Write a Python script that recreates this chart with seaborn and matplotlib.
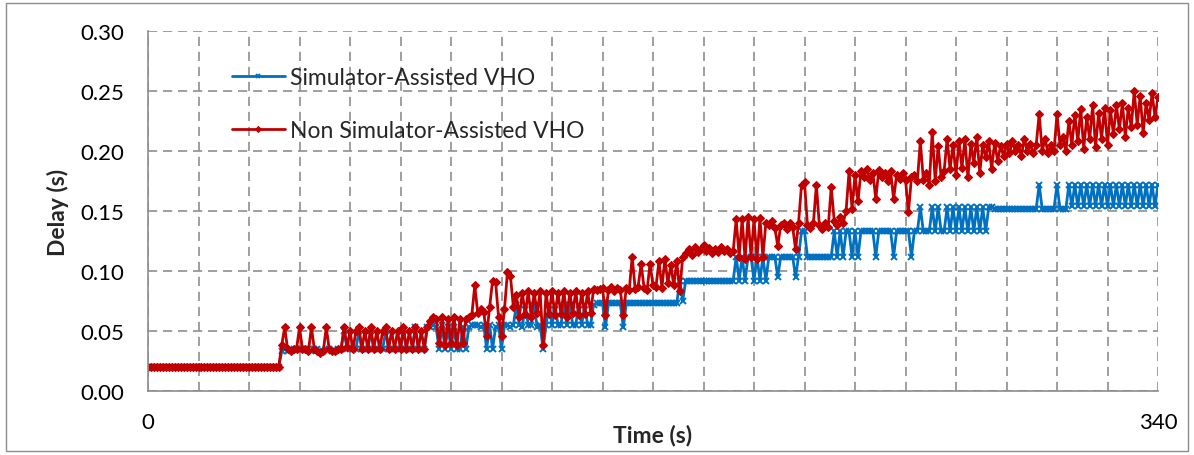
import numpy as np
import pandas as pd
import matplotlib
matplotlib.use("Agg")
import matplotlib.pyplot as plt
import seaborn as sns

# time axis: one sample per second, 0..340 s
time_s = list(range(0, 341))

# Simulator-Assisted VHO delay (ms), rows of 17 samples
sim_ms = (
    [20] * 17 +
    [20] * 17 +
    [20, 20, 20, 20, 20, 20, 20, 20, 20, 20, 20, 33, 35, 33, 35, 35, 35] +
    [35, 35, 35, 35, 33, 35, 35, 33, 33, 35, 35, 33, 33, 35, 35, 50, 35] +
    [35, 35, 35, 50, 35, 35, 35, 50, 35, 35, 35, 35, 50, 35, 35, 35, 35] +
    [35, 50, 35, 35, 35, 53, 35, 35, 35, 53, 53, 55, 53, 35, 55, 35, 53] +
    [35, 53, 35, 35, 53, 35, 53, 55, 55, 55, 53, 55, 35, 55, 35, 53, 55] +
    [35, 55, 55, 53, 55, 72, 55, 53, 72, 55, 55, 72, 53, 55, 35, 55, 72] +
    [55, 72, 55, 55, 72, 55, 72, 55, 55, 72, 55, 72, 55, 55, 72, 73, 73] +
    [73, 53, 73, 73, 73, 73, 73, 53, 73, 73, 73, 73, 73, 73, 73, 73, 73] +
    [73, 73, 73, 73, 73, 73, 73, 73, 73, 92, 75, 92, 92, 92, 92, 92, 92] +
    [92, 92, 92, 92, 92, 92, 92, 92, 92, 92, 92, 112, 92, 112, 92, 112, 112] +
    [92, 112, 92, 112, 92, 112, 112, 112, 95, 112, 112, 112, 112, 112, 95, 112, 133] +
    [133, 112, 112, 112, 112, 112, 112, 112, 112, 112, 133, 112, 133, 112, 133, 133, 112] +
    [133, 112, 133, 133, 133, 133, 133, 112, 133, 133, 133, 133, 133, 112, 133, 133, 133] +
    [133, 133, 112, 133, 133, 153, 133, 133, 133, 153, 133, 153, 133, 133, 153, 133, 153] +
    [133, 153, 133, 153, 133, 153, 133, 153, 133, 153, 133, 153, 153, 152, 152, 152, 152] +
    [152, 152, 152, 152, 152, 152, 152, 152, 152, 152, 152, 172, 152, 152, 152, 152, 152] +
    [172, 152, 152, 152, 172, 154, 172, 154, 172, 154, 172, 154, 172, 154, 172, 154, 172] +
    [154, 172, 154, 172, 154, 172, 154, 172, 154, 172, 154, 172, 154, 172, 154, 172, 154] +
    [172]
)

# Non Simulator-Assisted VHO delay (ms), rows of 17 samples
non_ms = (
    [20] * 17 +
    [20] * 17 +
    [20, 20, 20, 20, 20, 20, 20, 20, 20, 20, 20, 38, 53, 35, 33, 35, 35] +
    [53, 35, 35, 33, 53, 35, 33, 32, 33, 53, 35, 33, 33, 35, 35, 53, 37] +
    [50, 35, 50, 53, 35, 50, 35, 53, 35, 50, 35, 50, 53, 35, 50, 35, 50] +
    [35, 53, 35, 50, 35, 53, 35, 50, 35, 53, 58, 62, 60, 40, 62, 38, 60] +
    [40, 62, 38, 60, 40, 60, 62, 63, 88, 65, 68, 66, 46, 70, 92, 91, 62] +
    [46, 68, 99, 96, 70, 80, 62, 82, 64, 83, 62, 82, 65, 83, 38, 82, 64] +
    [83, 63, 82, 64, 83, 62, 82, 65, 83, 63, 82, 64, 83, 65, 85, 84, 85] +
    [86, 63, 84, 87, 83, 86, 84, 63, 86, 84, 112, 85, 87, 106, 86, 84, 106] +
    [88, 87, 108, 86, 110, 90, 105, 88, 108, 83, 112, 115, 118, 113, 120, 116, 118] +
    [122, 117, 119, 115, 118, 116, 120, 117, 118, 115, 117, 143, 112, 143, 110, 145, 112] +
    [143, 110, 144, 112, 140, 138, 142, 136, 121, 138, 140, 135, 140, 137, 118, 140, 172] +
    [174, 138, 136, 140, 172, 138, 135, 140, 137, 170, 142, 138, 145, 140, 150, 183, 152] +
    [180, 158, 183, 178, 185, 176, 182, 160, 184, 178, 182, 175, 183, 160, 180, 177, 182] +
    [176, 149, 178, 180, 175, 208, 176, 182, 172, 216, 175, 204, 178, 183, 210, 185, 205] +
    [180, 208, 186, 210, 178, 206, 190, 212, 182, 205, 195, 208, 185, 207, 192, 204, 196] +
    [206, 198, 208, 200, 205, 196, 210, 200, 206, 198, 205, 231, 200, 210, 198, 205, 200] +
    [231, 205, 212, 200, 225, 205, 230, 208, 235, 202, 228, 210, 238, 203, 232, 210, 236] +
    [205, 234, 214, 238, 218, 240, 212, 236, 220, 250, 222, 246, 215, 240, 226, 248, 228] +
    [245]
)

series_names = ["Simulator-Assisted VHO", "Non Simulator-Assisted VHO"]
series_colors = ["#0070C0", "#C00000"]
y_ticks = [0.00, 0.05, 0.10, 0.15, 0.20, 0.25, 0.30]

sim_df = pd.DataFrame({"Time (s)": time_s, "Delay (s)": [v / 1000 for v in sim_ms]})
non_df = pd.DataFrame({"Time (s)": time_s, "Delay (s)": [v / 1000 for v in non_ms]})

sns.set_style("white")
plt.rcParams["font.family"] = ["Lato", "DejaVu Sans"]

fig = plt.figure(figsize=(11.94, 4.56), dpi=100)
ax = fig.add_axes([148 / 1194, 1 - 392 / 456, (1158 - 148) / 1194, (392 - 32) / 456])

sns.lineplot(data=sim_df, x="Time (s)", y="Delay (s)", color=series_colors[0],
             marker="x", markersize=4.5, markeredgewidth=1.4,
             markeredgecolor=series_colors[0], linewidth=2.0,
             label=series_names[0], ax=ax)
sns.lineplot(data=non_df, x="Time (s)", y="Delay (s)", color=series_colors[1],
             marker="D", markersize=4.0, markeredgewidth=0.8,
             markeredgecolor=series_colors[1], markerfacecolor=series_colors[1],
             linewidth=2.0, label=series_names[1], ax=ax)

ax.set_xlim(0, 340)
ax.set_ylim(0, 0.30)
ax.set_xticks(np.arange(0, 341, 17))
ax.set_xticklabels(["0"] + [""] * 19 + ["340"])
ax.set_yticks(y_ticks)
ax.set_yticklabels([f"{t:.2f}" for t in y_ticks])
ax.tick_params(axis="both", labelsize=16, labelcolor="#000000", length=6, width=1,
               direction="out", color="#8c8c8c")
ax.tick_params(axis="y", pad=11)
ax.tick_params(axis="x", pad=9)
ax.grid(True, color="#8f8f8f", linestyle=(0, (5.5, 3.5)), linewidth=1.2)
for s in ["top", "right"]:
    ax.spines[s].set_visible(False)
for s in ["left", "bottom"]:
    ax.spines[s].set_color("#8c8c8c")
    ax.spines[s].set_linewidth(1.2)
ax.set_axisbelow(True)

ax.set_xlabel("Time (s)", fontsize=16.5, fontweight="bold", labelpad=-6)
ax.set_ylabel("Delay (s)", fontsize=16.5, fontweight="bold", labelpad=8)

leg = ax.legend(loc="upper left", bbox_to_anchor=(0.074, 0.925), frameon=False,
                fontsize=16.5, handlelength=2.3, labelspacing=1.4, borderaxespad=0,
                handletextpad=0.25)
for h in leg.legend_handles:
    h.set_markersize(3)

border = plt.Rectangle((6 / 1194, 4 / 456), 1182 / 1194, 448 / 456,
                       transform=fig.transFigure, fill=False,
                       edgecolor="#8c8c8c", linewidth=1)
fig.add_artist(border)

fig.savefig("out.png", dpi=100)
